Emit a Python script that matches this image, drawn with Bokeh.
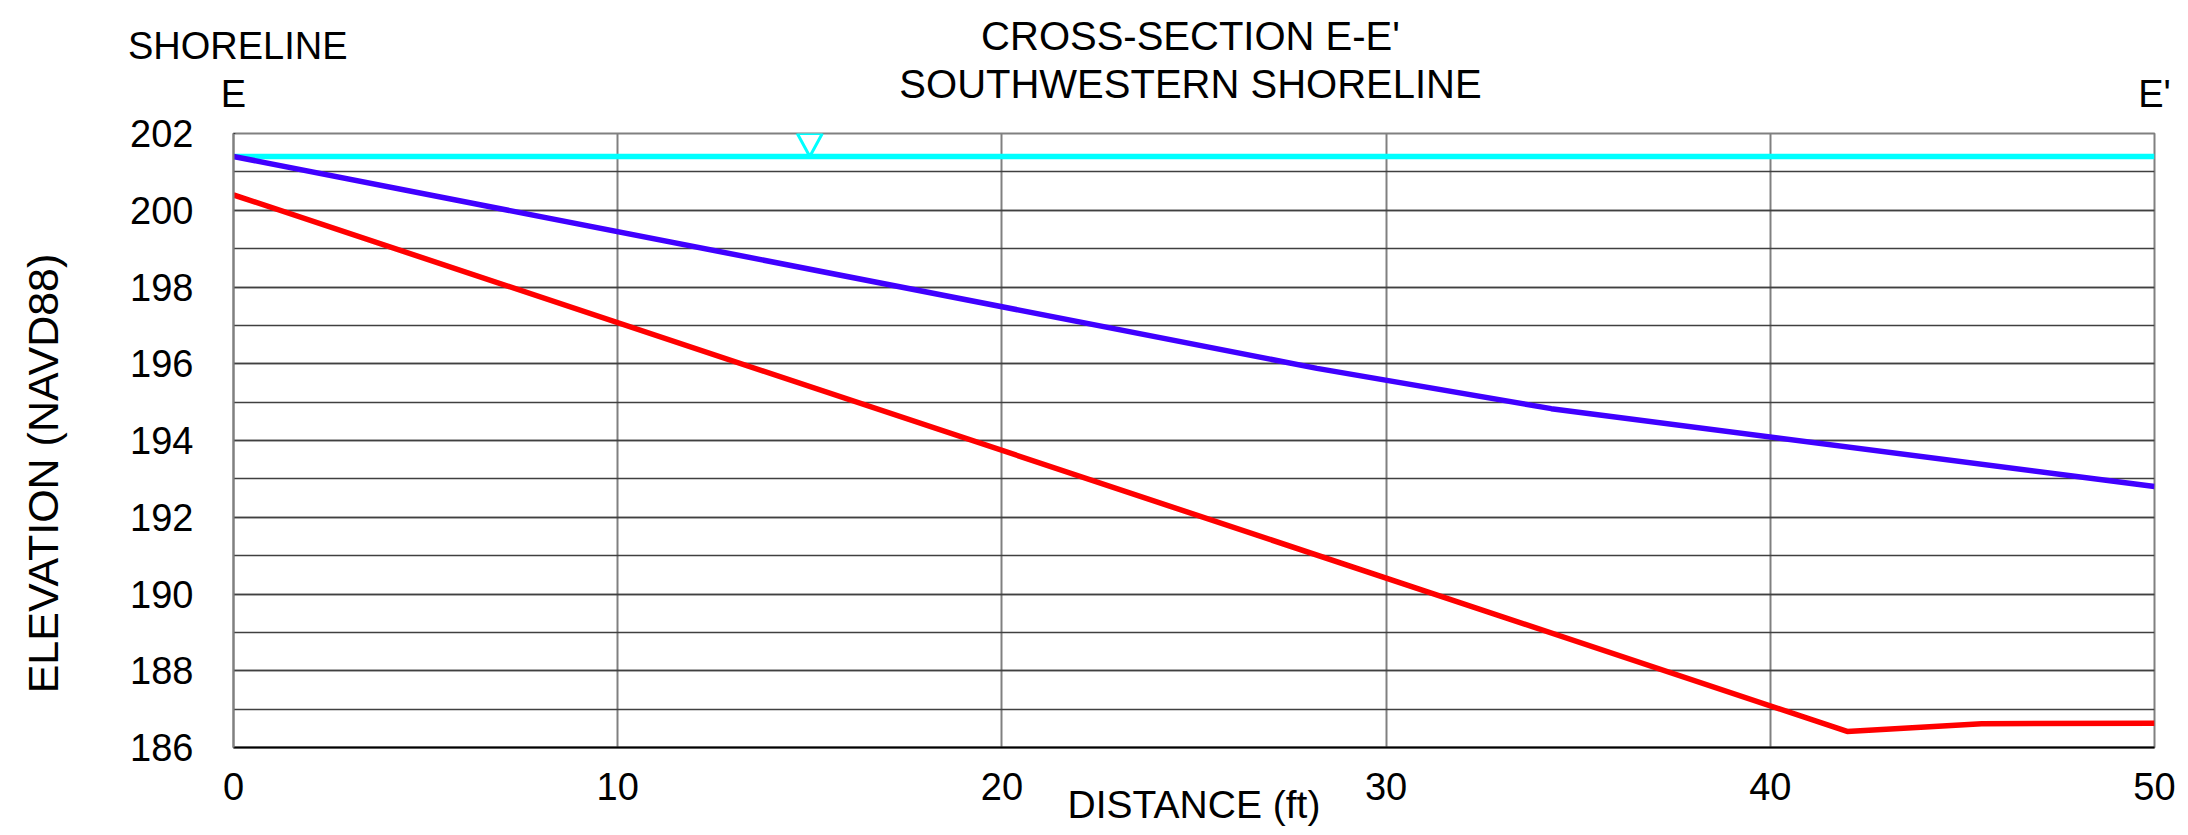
import math
from bokeh.plotting import figure
from bokeh.models import Range1d, SingleIntervalTicker, Label, Arrow, TeeHead
from bokeh.embed import file_html
from bokeh.resources import INLINE

# ---------------- data ----------------
water_distance = [0, 50]
water_elevation = [201.4, 201.4]
water_mark_distance = 15

upper_distance = [0, 28.2, 34.3, 50]
upper_elevation = [201.4, 195.88, 194.83, 192.8]

lower_distance = [0, 42.0, 45.5, 50]
lower_elevation = [200.4, 186.42, 186.62, 186.63]

x_ticks_interval = 10
y_ticks_interval = 2

title_lines = ["CROSS-SECTION E-E'", "SOUTHWESTERN SHORELINE"]
x_label = "DISTANCE (ft)"
y_label = "ELEVATION (NAVD88)"

# ---------------- layout ----------------
W, H = 2188, 835
X0, X1 = 0, 50
Y0, Y1 = 186, 202
LEFT, TOP = 233, 133
FW, FH = 1921, 614
FONT = "Liberation Sans"
FS = "38px"
BASE_SHIFT = 15  # empirical shift of Bokeh's alphabetic baseline

p = figure(frame_width=FW, frame_height=FH,
           min_border_left=LEFT, min_border_right=W - LEFT - FW,
           min_border_top=TOP, min_border_bottom=H - TOP - FH,
           x_range=Range1d(X0, X1), y_range=Range1d(Y0, Y1),
           output_backend="svg", toolbar_location=None,
           background_fill_color="white", border_fill_color="white")

p.outline_line_color = "#808080"
p.outline_line_width = 2

# axes
p.xaxis.ticker = SingleIntervalTicker(interval=x_ticks_interval)
p.yaxis.ticker = SingleIntervalTicker(interval=y_ticks_interval, num_minor_ticks=2)
for ax in (p.xaxis[0], p.yaxis[0]):
    ax.major_tick_line_color = None
    ax.minor_tick_line_color = None
    ax.major_tick_out = 0
    ax.major_tick_in = 0
    ax.minor_tick_out = 0
    ax.major_label_text_font = FONT
    ax.major_label_text_font_size = FS
    ax.major_label_text_color = "black"
p.xaxis.axis_line_color = "black"
p.xaxis.axis_line_width = 2
p.yaxis.axis_line_color = "#808080"
p.yaxis.axis_line_width = 2
p.yaxis.major_label_standoff = 40
p.xaxis.major_label_standoff = 25
p.xaxis.axis_label = x_label
p.xaxis.axis_label_text_font = FONT
p.xaxis.axis_label_text_font_size = "39px"
p.xaxis.axis_label_text_font_style = "normal"
p.xaxis.axis_label_text_color = "black"
p.xaxis.axis_label_standoff = -20

# grid
p.xgrid.grid_line_color = "#808080"
p.xgrid.grid_line_width = 2
p.ygrid.grid_line_color = "#404040"
p.ygrid.grid_line_width = 1.5
p.ygrid.minor_grid_line_color = "#404040"
p.ygrid.minor_grid_line_width = 1.5

# data lines
p.line(water_distance, water_elevation, line_color="#00FFFF", line_width=5.5)
p.line(upper_distance, upper_elevation, line_color="#4000FF", line_width=5.5)
p.line(lower_distance, lower_elevation, line_color="#FF0000", line_width=5.5)

# water level marker (inverted triangle sitting on the water line)
half_w = 12.5 * (X1 - X0) / FW
wl = water_elevation[0]
p.patch([water_mark_distance - half_w, water_mark_distance + half_w, water_mark_distance],
        [Y1, Y1, wl], fill_color="white", line_color="#00FFFF", line_width=3)


def add_text(px, py, text, side, align="center", angle=0.0, size=FS):
    # canvas units (pixels from the canvas top-left); placed in a side panel so it is not clipped
    p.add_layout(Label(x=px, y=py, x_units="canvas", y_units="canvas",
                       text=text, text_align=align, angle=angle,
                       text_baseline="alphabetic", text_font=FONT,
                       text_font_size=size, text_color="black"), side)


# titles
add_text(1190, 50 - BASE_SHIFT, title_lines[0], "above", size="40px")
add_text(1190, 98 - BASE_SHIFT, title_lines[1], "above", size="40px")
add_text(347, 60 - BASE_SHIFT, "SHORELINE", "above", align="right")

# E / E'
add_text(LEFT, 108 - BASE_SHIFT, "E", "right")
add_text(LEFT + FW, 108 - BASE_SHIFT, "E'", "left")

# y axis title
add_text(57 - BASE_SHIFT, 473, y_label, "left", angle=math.pi / 2, size="43px")


# SHORELINE leader: drawn with arrow "tee" heads placed in the top panel (not clipped to the frame)
def tee(px, py, dirx, diry, length, lw):
    # a line of `length` px centred on (px, py), running along (dirx, diry)
    nx, ny = -diry, dirx
    p.add_layout(Arrow(x_start=px + 1.0 * nx, y_start=py + 1.0 * ny, x_end=px, y_end=py,
                       start_units="canvas", end_units="canvas",
                       line_color="black", line_width=0.5,
                       end=TeeHead(size=length, line_color="black", line_width=lw)), "above")


def segment(ax_, ay_, bx_, by_, lw=1.6):
    L = math.hypot(bx_ - ax_, by_ - ay_)
    tee((ax_ + bx_) / 2, (ay_ + by_) / 2, (bx_ - ax_) / L, (by_ - ay_) / L, L, lw)


lead_start = (395, 47)
segment(360, 47, lead_start[0], lead_start[1])
segment(lead_start[0], lead_start[1], LEFT, TOP)

# filled, narrow arrow head at the plot corner
dxh, dyh = lead_start[0] - LEFT, lead_start[1] - TOP
Lh = math.hypot(dxh, dyh)
ux, uy = dxh / Lh, dyh / Lh
head_len, head_w = 35, 12.6
t = 1.0
while t <= head_len:
    w = head_w * t / head_len
    tee(LEFT + ux * t, TOP + uy * t, -uy, ux, w, 1.6)
    t += 1.0

open("out.html", "w").write(file_html(p, INLINE))
